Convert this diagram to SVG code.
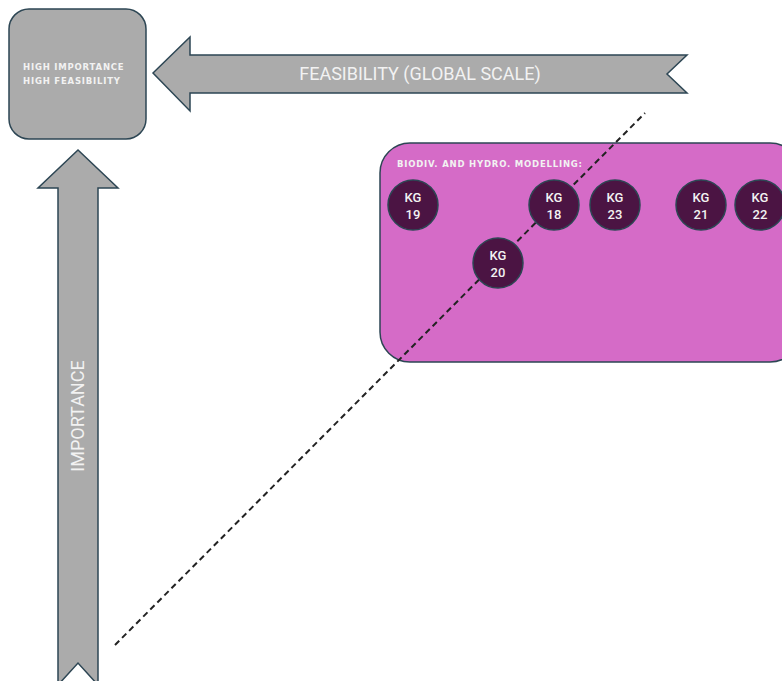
<svg xmlns="http://www.w3.org/2000/svg" width="782" height="681" viewBox="0 0 782 681">
  <style>
    .shape { fill: #ababab; stroke: #2d4654; stroke-width: 1.5; }
    .axis-label { font-family: Roboto, "Liberation Sans", Arial, sans-serif; font-size: 18px; fill: #f2f2f2; }
    .small-bold { font-family: "DejaVu Sans", "Liberation Sans", Arial, sans-serif; font-size: 8.5px; font-weight: bold; letter-spacing: 0.8px; fill: #f2f2f2; }
    .group-box { fill: #d56bc7; stroke: #2d4654; stroke-width: 1.5; }
    .kg circle { fill: #4b1443; stroke: #2d4654; stroke-width: 1.5; }
    .kg text { font-family: Roboto, "Liberation Sans", Arial, sans-serif; font-size: 13px; font-weight: 500; fill: #f2f2f2; text-anchor: middle; }
  </style>

  <!-- corner target box -->
  <g id="corner-box">
    <rect class="shape" x="9" y="9" width="137" height="130" rx="20" ry="20"/>
    <text class="small-bold" x="23" y="70">HIGH IMPORTANCE</text>
    <text class="small-bold" x="23" y="84">HIGH FEASIBILITY</text>
  </g>

  <!-- horizontal axis arrow -->
  <g id="feasibility-arrow">
    <polygon class="shape" points="153,73 190,37 190,55 687,55 667,74 687,93 190,93 190,111"/>
    <text class="axis-label" x="420" y="80" text-anchor="middle">FEASIBILITY (GLOBAL SCALE)</text>
  </g>

  <!-- vertical axis arrow -->
  <g id="importance-arrow">
    <polygon class="shape" points="78,150 118,188 98,188 98,685 78,663 58,685 58,188 38,188"/>
    <text class="axis-label" x="0" y="0" text-anchor="middle" transform="translate(84,416) rotate(-90)">IMPORTANCE</text>
  </g>

  <!-- modelling group container -->
  <g id="modelling-group">
    <rect class="group-box" x="380" y="143" width="420" height="219" rx="30" ry="30"/>
    <text class="small-bold" x="397" y="167">BIODIV. AND HYDRO. MODELLING:</text>
  </g>

  <!-- diagonal reference line -->
  <g id="connectors">
    <line x1="115" y1="645" x2="645" y2="113" stroke="#222" stroke-width="2" stroke-dasharray="6,4"/>
  </g>

  <!-- KG nodes -->
  <g id="kg19" class="kg">
    <circle cx="413" cy="205" r="25"/>
    <text x="413" y="202">KG</text>
    <text x="413" y="219">19</text>
  </g>
  <g id="kg18" class="kg">
    <circle cx="554" cy="205" r="25"/>
    <text x="554" y="202">KG</text>
    <text x="554" y="219">18</text>
  </g>
  <g id="kg23" class="kg">
    <circle cx="615" cy="205" r="25"/>
    <text x="615" y="202">KG</text>
    <text x="615" y="219">23</text>
  </g>
  <g id="kg21" class="kg">
    <circle cx="701" cy="205" r="25"/>
    <text x="701" y="202">KG</text>
    <text x="701" y="219">21</text>
  </g>
  <g id="kg22" class="kg">
    <circle cx="760" cy="205" r="25"/>
    <text x="760" y="202">KG</text>
    <text x="760" y="219">22</text>
  </g>
  <g id="kg20" class="kg">
    <circle cx="498" cy="263" r="25"/>
    <text x="498" y="260">KG</text>
    <text x="498" y="277">20</text>
  </g>
</svg>
